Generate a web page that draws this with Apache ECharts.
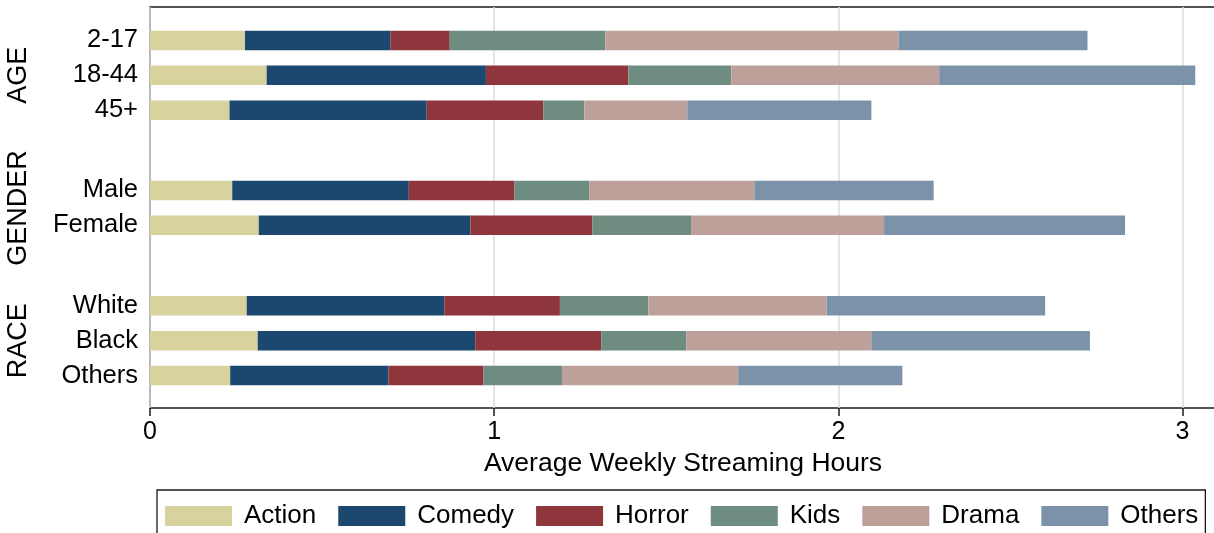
<!DOCTYPE html>
<html>
<head>
<meta charset="utf-8">
<script src="https://cdn.jsdelivr.net/npm/echarts@6.0.0/dist/echarts.min.js"></script>
<style>
    html, body {margin: 0; padding: 0; background: #fff; overflow: hidden;}
    /* a bit wider than the window: the plot frame is cut at the right edge */
    #streamChart {width: 1230px; height: 533px;}
</style>
</head>
<body>
<div id="streamChart"></div>
<script>
// rows, top to bottom
var ageCats = ['2-17', '18-44', '45+'];
var genderCats = ['Male', 'Female'];
var raceCats = ['White', 'Black', 'Others'];
var genres = ['Action', 'Comedy', 'Horror', 'Kids', 'Drama', 'Others'];

// hours per genre, order: 2-17, 18-44, 45+, Male, Female, White, Black, Others
var action = [0.276, 0.339, 0.231, 0.239, 0.316, 0.281, 0.313, 0.233];
var comedy = [0.423, 0.637, 0.573, 0.513, 0.615, 0.574, 0.632, 0.460];
var horror = [0.172, 0.414, 0.339, 0.307, 0.354, 0.336, 0.366, 0.276];
var kids = [0.452, 0.299, 0.119, 0.218, 0.287, 0.257, 0.247, 0.228];
var drama = [0.852, 0.604, 0.299, 0.479, 0.561, 0.518, 0.538, 0.512];
var others = [0.549, 0.744, 0.535, 0.521, 0.700, 0.635, 0.635, 0.477];

var xTicks = [0, 1, 2, 3];

var genreValues = [action, comedy, horror, kids, drama, others];
var genreColors = ['#d8d29e', '#1c4870', '#8f353c', '#6e8d80', '#bea09a', '#7c92a9'];
var FONT = "'Liberation Sans', Helvetica, Arial, sans-serif";
var XMAX = 3.138;

var groups = [
    {name: 'AGE', cats: ageCats, from: 0, top: 23, height: 104.7},
    {name: 'GENDER', cats: genderCats, from: 3, top: 173, height: 69.8},
    {name: 'RACE', cats: raceCats, from: 5, top: 288.3, height: 104.7}
];

function buildOption() {
    var grid = [{left: 150, right: 0, top: 7, bottom: 125, show: true,
        borderColor: '#1a1a1a', borderWidth: 1.5, backgroundColor: 'transparent'}];
    var xAxis = [{
        gridIndex: 0, type: 'value', min: 0, max: XMAX, interval: 1,
        name: 'Average Weekly Streaming Hours', nameLocation: 'middle', nameGap: 41,
        nameTextStyle: {fontSize: 26.5, color: '#000', fontFamily: FONT, padding: [0, 14, 0, 0]},
        axisLine: {show: false},
        axisTick: {show: true, length: 8, lineStyle: {color: '#1a1a1a', width: 1.5}},
        axisLabel: {
            fontSize: 25, color: '#000', fontFamily: FONT, margin: 12,
            showMaxLabel: false,
            formatter: function (v) { return xTicks.indexOf(v) >= 0 ? String(v) : ''; }
        },
        splitLine: {show: true, lineStyle: {color: '#dddddd', width: 1.5}}
    }];
    var yAxis = [{gridIndex: 0, type: 'value', min: 0, max: 1, show: false}];
    var series = [];
    var graphic = [];

    for (var g = 0; g < groups.length; g++) {
        var grp = groups[g];
        var gi = g + 1;
        grid.push({left: 150, right: 0, top: grp.top, height: grp.height});
        xAxis.push({gridIndex: gi, type: 'value', min: 0, max: XMAX, show: false,
            splitLine: {show: false}});
        yAxis.push({
            gridIndex: gi, type: 'category', data: grp.cats, inverse: true,
            axisLine: {show: false}, axisTick: {show: false},
            axisLabel: {fontSize: 25.5, color: '#000', fontFamily: FONT, margin: 12}
        });
        for (var s = 0; s < genres.length; s++) {
            series.push({
                name: genres[s],
                type: 'bar',
                stack: grp.name,
                xAxisIndex: gi,
                yAxisIndex: gi,
                barWidth: 19.5,
                itemStyle: {color: genreColors[s]},
                data: genreValues[s].slice(grp.from, grp.from + grp.cats.length)
            });
        }
        graphic.push({
            type: 'text',
            x: 19,
            y: grp.top + grp.height / 2,
            rotation: Math.PI / 2,
            style: {text: grp.name, fill: '#000', font: '27px ' + FONT,
                align: 'center', verticalAlign: 'middle'}
        });
    }

    return {
        animation: false,
        backgroundColor: '#fff',
        grid: grid,
        xAxis: xAxis,
        yAxis: yAxis,
        series: series,
        graphic: graphic,
        legend: {
            data: genres,
            left: 157,
            top: 490,
            orient: 'horizontal',
            icon: 'rect',
            itemWidth: 67,
            itemHeight: 20,
            itemGap: 22,
            padding: [13, 7, 14, 8],
            borderColor: '#1a1a1a',
            borderWidth: 1.3,
            textStyle: {fontSize: 26, color: '#000', fontFamily: FONT, padding: [3, 0, 0, 7]}
        }
    };
}

var streamChart = echarts.init(document.getElementById('streamChart'));
streamChart.setOption(buildOption());
</script>
</body>
</html>
